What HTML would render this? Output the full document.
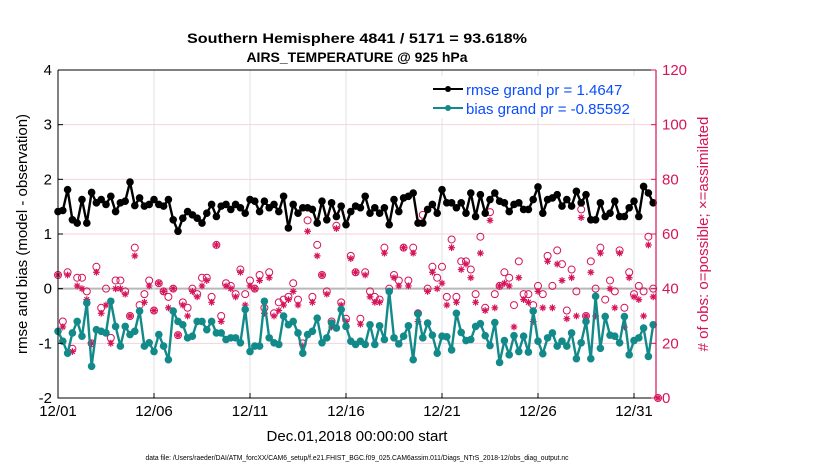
<!DOCTYPE html>
<html><head><meta charset="utf-8"><style>
body{margin:0;background:#fff;}
svg{display:block;font-family:"Liberation Sans",sans-serif;}
</style></head><body>
<svg id="chart" width="830" height="470" viewBox="0 0 830 470">
<rect x="0" y="0" width="830" height="470" fill="#fff"/>
<g id="grid"></g>
<g id="series"></g>
<g id="axes"></g>
<text x="357" y="43" text-anchor="middle" font-size="14" font-weight="bold" textLength="340" lengthAdjust="spacingAndGlyphs">Southern Hemisphere 4841 / 5171 = 93.618%</text>
<text x="357" y="62" text-anchor="middle" font-size="14" font-weight="bold">AIRS_TEMPERATURE @ 925 hPa</text>
<text transform="translate(27,234) rotate(-90)" text-anchor="middle" font-size="15">rmse and bias (model - observation)</text>
<text transform="translate(708,234) rotate(-90)" text-anchor="middle" font-size="15" fill="#d6145a">#&#160;of obs: o=possible; ×=assimilated</text>
<text x="357" y="441" text-anchor="middle" font-size="15">Dec.01,2018 00:00:00 start</text>
<text x="357" y="460" text-anchor="middle" font-size="7" textLength="423" lengthAdjust="spacingAndGlyphs">data file: /Users/raeder/DAI/ATM_forcXX/CAM6_setup/f.e21.FHIST_BGC.f09_025.CAM6assim.011/Diags_NTrS_2018-12/obs_diag_output.nc</text>
<g>
<rect x="430" y="76" width="215" height="42" fill="#fff"/>
<line x1="433" y1="89" x2="463" y2="89" stroke="#000" stroke-width="2"/>
<circle cx="448" cy="89" r="3" fill="#000"/>
<text x="466" y="95" font-size="15" fill="#0a4cff">rmse grand pr = 1.4647</text>
<line x1="433" y1="108" x2="463" y2="108" stroke="#138a8a" stroke-width="2"/>
<circle cx="448" cy="108" r="3" fill="#138a8a"/>
<text x="466" y="114" font-size="15" fill="#0a4cff">bias grand pr = -0.85592</text>
</g>
</svg>
<script>
const xTickLabels=["12/01","12/06","12/11","12/16","12/21","12/26","12/31"];
const xTickDays=[0,5,10,15,20,25,30];
const yTicks=[-2,-1,0,1,2,3,4];
const y2Ticks=[0,20,40,60,80,100,120];
const rmse=[1.41,1.43,1.81,1.26,1.20,1.63,1.20,1.76,1.57,1.63,1.54,1.69,1.41,1.57,1.60,1.95,1.52,1.66,1.51,1.54,1.63,1.54,1.51,1.63,1.26,1.05,1.29,1.41,1.35,1.29,1.20,1.38,1.54,1.32,1.51,1.54,1.45,1.54,1.48,1.38,1.63,1.60,1.41,1.60,1.48,1.54,1.41,1.69,1.11,1.54,1.38,1.48,1.48,1.45,1.20,1.60,1.26,1.57,1.32,1.51,1.17,1.41,1.51,
1.48,1.69,1.38,1.48,1.38,1.48,1.17,1.63,1.41,1.66,1.69,1.75,1.20,1.20,1.45,1.54,1.38,1.81,1.57,1.57,1.48,1.57,1.38,1.75,1.32,1.72,1.38,1.63,1.75,1.60,1.57,1.41,1.54,1.57,1.45,1.45,1.63,1.86,1.38,1.63,1.66,1.72,1.51,1.63,1.51,1.78,1.57,1.72,1.26,1.26,1.57,1.32,1.38,1.60,1.32,1.32,1.48,1.60,1.32,1.87,1.75,1.57];
const bias=[-0.78,-0.96,-1.18,-0.81,-0.60,-0.87,-0.26,-1.42,-0.75,-0.78,-0.81,-0.23,-0.69,-1.05,-0.69,-0.84,-0.78,-0.41,-1.05,-0.99,-1.15,-0.84,-1.05,-1.30,-0.41,-0.60,-0.66,-0.90,-0.87,-0.60,-0.60,-0.75,-0.60,-0.81,-0.81,-0.93,-0.90,-0.90,-0.99,-0.38,-1.15,-1.05,-1.05,-0.23,-0.90,-0.99,-1.02,-0.50,-0.66,-0.60,-0.81,-1.18,-0.84,-0.78,-0.54,-0.99,-0.90,-0.63,-0.72,-0.38,-0.69,-0.96,-1.02,
-0.96,-1.02,-0.66,-1.02,-0.68,-0.93,-0.05,-0.90,-1.01,-0.87,-0.68,-1.30,-0.46,-0.90,-0.63,-0.85,-1.18,-0.87,-0.88,-1.12,-0.45,-0.80,-0.95,-0.93,-0.69,-0.64,-0.86,-1.04,-0.62,-1.35,-0.95,-1.21,-0.86,-1.15,-0.87,-1.16,-0.41,-0.96,-1.19,-0.90,-0.81,-1.05,-0.96,-1.05,-0.81,-1.28,-0.99,-0.60,-1.28,-0.14,-1.09,-0.51,-0.85,-0.87,-0.99,-0.51,-1.21,-0.95,-0.90,-0.72,-1.24,-0.66];
const nPossible=[45,28,46,18,44,44,39,20,48,33,40,22,43,43,39,30,55,34,38,43,32,42,39,37,40,23,35,33,40,38,44,44,37,56,30,42,41,38,47,38,43,40,45,33,46,31,35,36,37,42,36,20,65,37,56,45,39,28,63,35,29,52,46,
29,46,39,37,36,55,40,45,43,55,43,55,31,67,40,48,44,48,37,58,37,50,50,47,38,59,33,68,38,41,46,44,34,50,38,38,34,41,38,52,41,54,49,32,47,39,69,30,50,40,55,36,43,39,54,33,46,38,41,39,59,40,0];
const nAssim=[45,26,45,17,41,40,36,20,46,31,34,20,40,40,38,30,52,32,35,41,32,42,39,33,40,23,34,30,39,37,41,43,35,56,28,41,40,37,46,34,41,40,43,31,44,30,32,34,36,39,34,19,61,35,52,45,38,26,62,34,28,51,46,
27,45,37,35,35,53,39,44,41,55,41,53,28,64,39,46,40,42,34,55,35,47,49,44,35,53,32,65,33,41,42,41,26,44,36,35,28,39,33,50,33,49,43,29,44,30,66,30,46,30,53,30,40,33,53,26,44,37,36,30,56,37,0];
const NS="http://www.w3.org/2000/svg";
const L=58,R=656,T=70,B=398;
const dayPx=19.2;
function xd(d){return L+d*dayPx;}
function xi(i){return xd(i*0.25);}
function yL(v){return T+(4-v)*(B-T)/6;}
function yR(c){return B-c*(B-T)/120;}
function mk(tag,attrs,parent){const e=document.createElementNS(NS,tag);for(const k in attrs)e.setAttribute(k,attrs[k]);parent.appendChild(e);return e;}
const grid=document.getElementById('grid'),ser=document.getElementById('series'),ax=document.getElementById('axes');
const PINK="#d6145a";
yTicks.forEach(v=>{const l=mk('line',{x1:L,x2:R,y1:yL(v),y2:yL(v),stroke:v===0?"#b8b8b8":"#f6d2dd","stroke-width":v===0?2:1},grid);

});
xTickDays.forEach((d,k)=>{const l=mk('line',{x1:xd(d),x2:xd(d),y1:T,y2:B,stroke:"#e2e2e2","stroke-width":1},grid);


const t=mk('text',{x:xd(d),y:B+18,"text-anchor":"middle","font-size":15},ax);t.textContent=xTickLabels[k];


mk('line',{x1:xd(d),x2:xd(d),y1:B,y2:B-5,stroke:"#000"},ax);});
const box=mk('path',{d:`M${L},${T}H${R}M${L},${T}V${B}H${R}`,stroke:"#000",fill:"none","stroke-width":1},ax);


const ra=mk('line',{x1:R,x2:R,y1:T,y2:B,stroke:PINK,"stroke-width":1.2},ax);


yTicks.forEach(v=>{const t=mk('text',{x:L-6,y:yL(v)+5,"text-anchor":"end","font-size":15},ax);t.textContent=v;


mk('line',{x1:L,x2:L+5,y1:yL(v),y2:yL(v),stroke:"#000"},ax);});
y2Ticks.forEach(v=>{const t=mk('text',{x:R+6,y:yR(v)+5,"font-size":15,fill:PINK},ax);t.textContent=v;


mk('line',{x1:R,x2:R-5,y1:yR(v),y2:yR(v),stroke:PINK},ax);});
nPossible.forEach((c,i)=>{const e=mk('circle',{cx:xi(i),cy:yR(c),r:3.5,fill:"none",stroke:PINK,"stroke-width":1},ser);

});
nAssim.forEach((c,i)=>{const x=xi(i),y=yR(c),s=3.4;
const e=mk('path',{d:`M${x-s},${y}H${x+s}M${x},${y-s}V${y+s}M${x-s*0.7},${y-s*0.7}L${x+s*0.7},${y+s*0.7}M${x-s*0.7},${y+s*0.7}L${x+s*0.7},${y-s*0.7}`,stroke:PINK,"stroke-width":1.2},ser);

});
function line(arr,col,name){const p=mk('polyline',{points:arr.map((v,i)=>xi(i)+","+yL(v)).join(" "),fill:"none",stroke:col,"stroke-width":2.4,"stroke-linejoin":"round"},ser);


arr.forEach((v,i)=>{const c=mk('circle',{cx:xi(i),cy:yL(v),r:3.8,fill:col},ser);

});}
line(rmse,"#000","rmse");
line(bias,"#138a8a","bias");
</script>
</body></html>
